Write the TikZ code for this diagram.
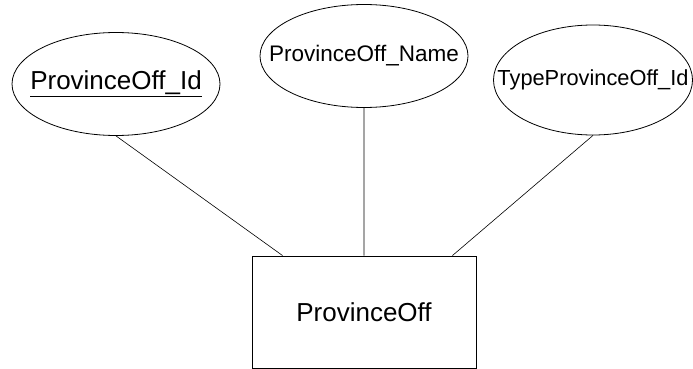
\documentclass[tikz,border=0pt]{standalone}
\usepackage{fontspec}
\setmainfont{Liberation Sans}
\usetikzlibrary{shapes.geometric}

\newcommand{\attext}[1]{\makebox[0pt]{#1}}

\begin{document}
\begin{tikzpicture}[x=1pt,y=-1pt,
		attrib/.style={ellipse, draw, line width=0.8pt, inner sep=0pt},
		entbox/.style={rectangle, draw, line width=0.8pt, inner sep=0pt, minimum width=224pt, minimum height=112pt}]
		\useasboundingbox (0,0) rectangle (693,369);
		\node[attrib, minimum width=208pt, minimum height=103pt, font=\fontsize{26}{30}\selectfont] (pid) at (116,84) {\attext{\underline{ProvinceOff\_Id}}};
		\node[attrib, minimum width=208pt, minimum height=103pt, font=\fontsize{22.5}{26}\selectfont] (pname) at (364,56) {\attext{ProvinceOff\_Name}};
		\node[attrib, minimum width=199pt, minimum height=110pt, font=\fontsize{21.8}{26}\selectfont] (ptype) at (593,80) {\attext{TypeProvinceOff\_Id}};
		\node[entbox, font=\fontsize{26}{30}\selectfont] (prov) at (364,312) {ProvinceOff};
		\path[draw, line width=0.6pt]
		(pid.south) -- ([xshift=31pt]prov.north west)
		(pname.south) -- (prov.north)
		(ptype.south) -- ([xshift=-24pt]prov.north east)
		;
	\end{tikzpicture}
\end{document}
